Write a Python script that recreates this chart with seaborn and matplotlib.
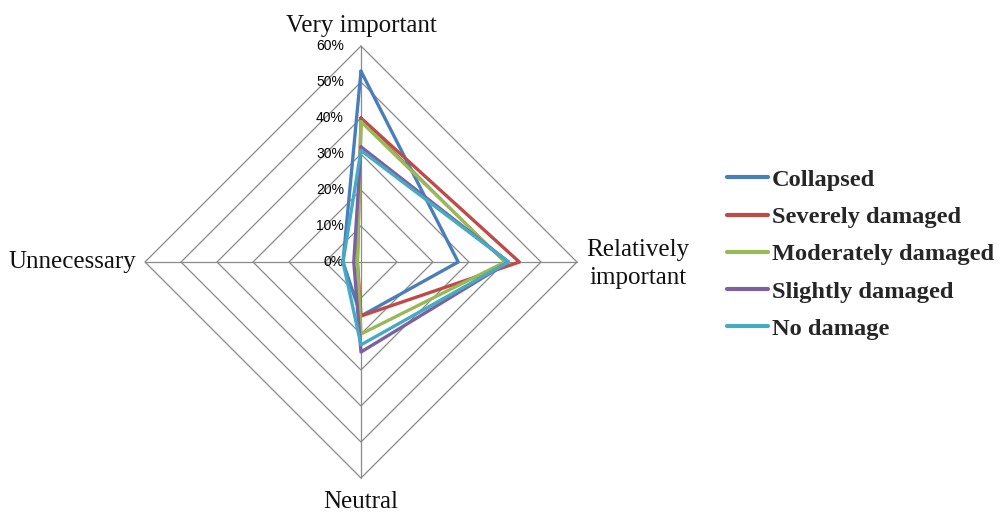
import numpy as np
import pandas as pd
import matplotlib
matplotlib.use("Agg")
import matplotlib.pyplot as plt
import seaborn as sns
from matplotlib.lines import Line2D
from matplotlib.transforms import offset_copy

# Axis categories (clockwise from the top) and damage groups
categories = ["Very important", "Relatively\nimportant", "Neutral", "Unnecessary"]
series = ["Collapsed", "Severely damaged", "Moderately damaged",
          "Slightly damaged", "No damage"]

# Share of respondents (%) per category
collapsed = [53, 27, 15, 5]
severely_damaged = [40, 44, 15, 1]
moderately_damaged = [39, 40, 20, 1]
slightly_damaged = [32, 41, 25, 2]
no_damage = [31, 41, 23, 5]

tick_levels = [0, 10, 20, 30, 40, 50, 60]
colors = ["#4A7EBB", "#BE4B48", "#98B954", "#7D60A0", "#46AAC5"]

values = [collapsed, severely_damaged, moderately_damaged, slightly_damaged, no_damage]
angles = np.arange(len(categories)) * 2 * np.pi / len(categories)

# Long-format table, each polygon closed back on its first vertex
rows = []
for name, vals in zip(series, values):
    for a, v in zip(list(angles) + [2 * np.pi], list(vals) + [vals[0]]):
        rows.append({"series": name, "theta": a, "value": v})
df = pd.DataFrame(rows)

sns.set_theme(style="white")
plt.rcParams["font.family"] = ["Liberation Serif", "DejaVu Serif"]

fig = plt.figure(figsize=(10.04, 5.15), dpi=100)
ax = fig.add_axes([0.1444, 0.0718, 0.4303, 0.8388], projection="polar")
ax.set_theta_zero_location("N")
ax.set_theta_direction(-1)
ax.set_ylim(0, tick_levels[-1])
ax.grid(False)
ax.set_xticks([])
ax.set_yticks([])
ax.spines["polar"].set_visible(False)

# Diamond-shaped web
grid_color = "#8A8A8A"
closed = list(angles) + [2 * np.pi]
for lvl in tick_levels[1:]:
    ax.plot(closed, [lvl] * len(closed), color=grid_color, lw=0.9,
            zorder=1, clip_on=False)
for a in angles:
    ax.plot([a, a], [0, tick_levels[-1]], color=grid_color, lw=0.9,
            zorder=1, clip_on=False)

sns.lineplot(data=df, x="theta", y="value", hue="series", hue_order=series,
             palette=colors, sort=False, estimator=None, lw=2.4,
             legend=False, ax=ax, zorder=3)
for ln in ax.lines:
    ln.set_clip_on(False)
ax.set_xlabel("")
ax.set_ylabel("")

# Radial tick labels along the top spoke
tick_tr = offset_copy(ax.transData, fig=fig, x=-17, y=0, units="dots")
for lvl in tick_levels:
    ax.text(0, lvl, f"{lvl}%", transform=tick_tr, ha="right", va="center",
            fontsize=10, family=["Liberation Sans", "DejaVu Sans"],
            color="black", zorder=2)

# Category labels around the web
rmax = tick_levels[-1]
label_specs = [
    (dict(x=0, y=9), dict(ha="center", va="bottom")),
    (dict(x=61, y=-2), dict(ha="center", va="center", multialignment="center")),
    (dict(x=0, y=-13), dict(ha="center", va="top")),
    (dict(x=-9, y=0), dict(ha="right", va="center")),
]
for a, cat, (off, align) in zip(angles, categories, label_specs):
    tr = offset_copy(ax.transData, fig=fig, units="dots", **off)
    ax.text(a, rmax, cat, transform=tr, fontsize=18, linespacing=1.38,
            color="#111111", **align)

handles = [Line2D([0], [0], color=c, lw=3) for c in colors]
fig.legend(handles, series, loc="center left", bbox_to_anchor=(0.724, 0.506),
           frameon=False, handlelength=1.7, handletextpad=0.15,
           labelspacing=0.62, borderaxespad=0, borderpad=0,
           prop={"family": ["Liberation Serif"], "weight": "bold", "size": 17.6})

fig.savefig("out.png", dpi=100)
